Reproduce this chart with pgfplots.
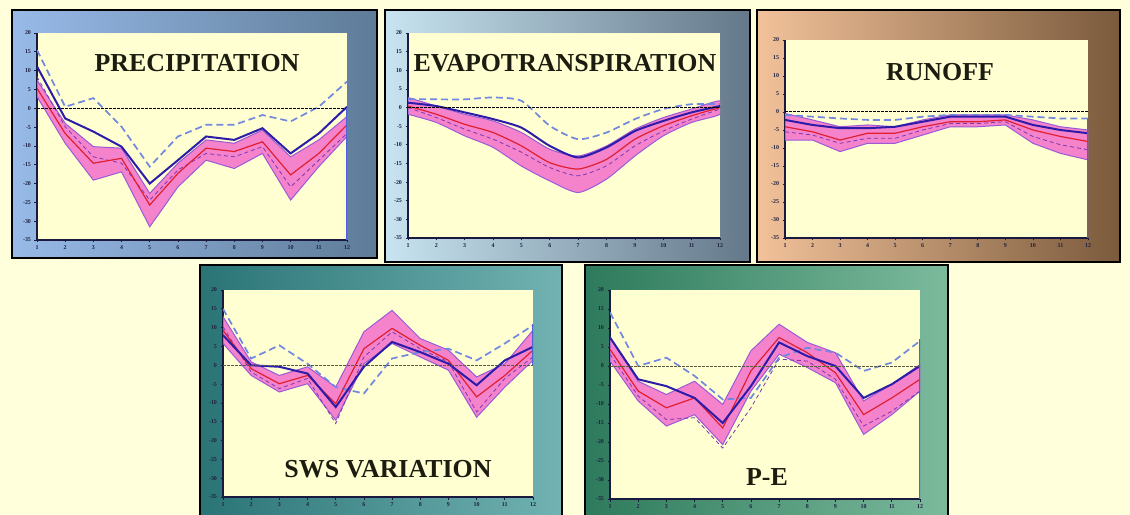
\documentclass[border=0pt]{standalone}
\usepackage{fontspec}
\setmainfont{Liberation Serif}
\usepackage{pgfplots}
\pgfplotsset{compat=1.18}
\definecolor{pagebg}{HTML}{FFFFDC}
\definecolor{plotbg}{HTML}{FFFFD2}
\definecolor{axisdark}{HTML}{1A1A40}
\definecolor{labeldark}{HTML}{202040}
\definecolor{bandfill}{HTML}{F583CC}
\definecolor{bandedge}{HTML}{9A5AD8}
\definecolor{redline}{HTML}{E02030}
\definecolor{blueline}{HTML}{2C1CA8}
\definecolor{bluedash}{HTML}{7088E0}
\definecolor{purpdash}{HTML}{7A38B0}
\definecolor{titlecol}{HTML}{1C1C10}
\definecolor{rightblue}{HTML}{5060D8}
\definecolor{zeroolive}{HTML}{5A5A40}
% frame colours
\definecolor{fAl}{HTML}{98BAE8}\definecolor{fAr}{HTML}{5E7C98}
\definecolor{fBl}{HTML}{C8E4F0}\definecolor{fBr}{HTML}{64788A}
\definecolor{fCl}{HTML}{F2C29A}\definecolor{fCr}{HTML}{7A5A3C}
\definecolor{fDl}{HTML}{2A7476}\definecolor{fDr}{HTML}{72B2B2}
\definecolor{fEl}{HTML}{2E7A5C}\definecolor{fEr}{HTML}{7CBA9C}
\pgfplotsset{
 panel/.style={
  scale only axis,
  xmin=1, xmax=12, ymin=-35, ymax=20,
  xtick={1,...,12}, ytick={-35,-30,...,20},
  axis lines=left,
  axis line style={-, draw=axisdark, line width=1.2bp},
  tick style={draw=axisdark, line width=0.7bp},
  major tick length=2.5bp, tick align=outside,
  /pgf/number format/assume math mode=true,
  ticklabel style={font=\fontsize{6}{7}\selectfont\bfseries, text=labeldark},
  axis background/.style={fill=plotbg},
 },
 band/.style={fill=bandfill, draw=bandedge, line width=1bp, no marks},
 redl/.style={draw=redline, line width=1.2bp, no marks},
 bluel/.style={draw=blueline, line width=2bp, no marks},
 blued/.style={draw=bluedash, line width=1.7bp, no marks, dash pattern=on 7bp off 4bp},
 purpd/.style={draw=purpdash, line width=0.8bp, no marks, dash pattern=on 4bp off 3bp},
 zerol/.style={draw=black, line width=1bp, no marks, dash pattern=on 2.5bp off 1.5bp},
 rightl/.style={draw=rightblue, line width=1.5bp, no marks},
}
\begin{document}
\begin{tikzpicture}
\path[use as bounding box, fill=pagebg] (0bp,0bp) rectangle (1130bp,515bp);
% frames
\shade[left color=fAl, right color=fAr] (12bp,257bp) rectangle (377bp,505bp);
\draw[black, line width=1.5bp] (12bp,257bp) rectangle (377bp,505bp);
\shade[left color=fBl, right color=fBr] (385bp,253bp) rectangle (750bp,505bp);
\draw[black, line width=1.5bp] (385bp,253bp) rectangle (750bp,505bp);
\shade[left color=fCl, right color=fCr] (757bp,253bp) rectangle (1120bp,505bp);
\draw[black, line width=1.5bp] (757bp,253bp) rectangle (1120bp,505bp);
\shade[left color=fDl, right color=fDr] (200bp,0bp) rectangle (562bp,250bp);
\draw[black, line width=1.5bp] (200bp,-2bp) rectangle (562bp,250bp);
\shade[left color=fEl, right color=fEr] (585bp,0bp) rectangle (948bp,250bp);
\draw[black, line width=1.5bp] (585bp,-2bp) rectangle (948bp,250bp);

% ---------- PRECIPITATION ----------
\begin{axis}[panel, at={(37bp,275bp)}, anchor=south west, width=310bp, height=207bp]
\addplot[band] coordinates {(1,7.5)(2,-4.0)(3,-10.2)(4,-10.6)(5,-22.6)(6,-14.6)(7,-8.4)(8,-9.3)(9,-5.8)(10,-12.9)(11,-8.4)(12,-2.2)
 (12,-7.5)(11,-15.5)(10,-24.4)(9,-12.0)(8,-16.0)(7,-13.8)(6,-20.9)(5,-31.5)(4,-16.9)(3,-19.1)(2,-9.3)(1,3.1)} -- cycle;
\addplot[purpd] coordinates {(1,8.4)(2,-4.9)(3,-12.9)(4,-14.6)(5,-24.4)(6,-16.4)(7,-12.0)(8,-12.9)(9,-10.2)(10,-20.9)(11,-13.8)(12,-6.7)};
\addplot[blued] coordinates {(1,15.5)(2,0.4)(3,2.7)(4,-4.9)(5,-15.5)(6,-7.5)(7,-4.4)(8,-4.4)(9,-1.8)(10,-3.5)(11,0.4)(12,7.1)};
\addplot[redl] coordinates {(1,5.3)(2,-6.7)(3,-14.6)(4,-13.3)(5,-25.7)(6,-17.3)(7,-10.6)(8,-11.5)(9,-8.9)(10,-17.7)(11,-12.0)(12,-4.4)};
\addplot[bluel] coordinates {(1,11.1)(2,-2.7)(3,-6.2)(4,-10.2)(5,-20.0)(6,-13.8)(7,-7.5)(8,-8.4)(9,-5.3)(10,-12.0)(11,-6.7)(12,0.4)};
\addplot[zerol] coordinates {(1,0)(12,0)};
\addplot[rightl] coordinates {(12,0)(12,-35)};
\end{axis}

% ---------- EVAPOTRANSPIRATION ----------
\begin{axis}[panel, at={(408bp,277bp)}, anchor=south west, width=312bp, height=205bp]
\addplot[band, smooth, tension=0.4] coordinates {(1,2.7)(2,0.4)(3,-1.8)(4,-3.6)(5,-6.7)(6,-11.2)(7,-13.0)(8,-10.3)(9,-5.8)(10,-2.7)(11,-0.4)(12,1.8)
 (12,-1.8)(11,-4.0)(10,-7.6)(9,-13.0)(8,-19.2)(7,-22.8)(6,-19.7)(5,-15.7)(4,-10.7)(3,-7.6)(2,-4.0)(1,-1.8)} -- cycle;
\addplot[purpd, smooth, tension=0.4] coordinates {(1,0)(2,-2.7)(3,-5.8)(4,-8.5)(5,-12.0)(6,-16.1)(7,-18.3)(8,-15.6)(9,-10.3)(10,-6.3)(11,-3.1)(12,-0.4)};
\addplot[blued, smooth, tension=0.4] coordinates {(1,2.2)(2,2.2)(3,2.2)(4,2.7)(5,1.8)(6,-4.9)(7,-8.5)(8,-6.7)(9,-3.1)(10,-0.4)(11,0.9)(12,0.9)};
\addplot[redl, smooth, tension=0.4] coordinates {(1,0.4)(2,-1.8)(3,-4.5)(4,-6.7)(5,-10.3)(6,-14.8)(7,-16.5)(8,-13.9)(9,-8.5)(10,-4.9)(11,-2.2)(12,0)};
\addplot[bluel, smooth, tension=0.4] coordinates {(1,1.3)(2,0.4)(3,-1.3)(4,-3.1)(5,-5.4)(6,-10.3)(7,-13.4)(8,-10.7)(9,-6.3)(10,-3.6)(11,-1.3)(12,0.4)};
\addplot[zerol] coordinates {(1,0)(12,0)};
\end{axis}

% ---------- RUNOFF ----------
\begin{axis}[panel, at={(785bp,277bp)}, anchor=south west, width=303bp, height=198bp]
\addplot[band] coordinates {(1,-0.4)(2,-2.2)(3,-4.1)(4,-3.6)(5,-4.1)(6,-2.2)(7,-0.8)(8,-0.8)(9,-0.8)(10,-2.2)(11,-4.1)(12,-5.0)
 (12,-13.3)(11,-11.5)(10,-8.7)(9,-3.6)(8,-4.1)(7,-4.1)(6,-6.4)(5,-8.7)(4,-8.7)(3,-11.0)(2,-7.8)(1,-7.8)} -- cycle;
\addplot[purpd] coordinates {(1,-5.5)(2,-6.4)(3,-8.7)(4,-7.3)(5,-7.3)(6,-5.0)(7,-3.2)(8,-3.2)(9,-2.7)(10,-6.8)(11,-9.1)(12,-10.5)};
\addplot[blued] coordinates {(1,-0.8)(2,-1.3)(3,-1.8)(4,-2.2)(5,-2.2)(6,-1.3)(7,-0.8)(8,-0.8)(9,-0.8)(10,-1.3)(11,-1.8)(12,-1.8)};
\addplot[redl] coordinates {(1,-4.1)(2,-5.5)(3,-7.8)(4,-5.9)(5,-5.9)(6,-4.1)(7,-2.7)(8,-2.7)(9,-2.2)(10,-5.0)(11,-6.8)(12,-8.2)};
\addplot[bluel] coordinates {(1,-2.2)(2,-3.6)(3,-4.5)(4,-4.5)(5,-4.1)(6,-2.7)(7,-1.3)(8,-1.3)(9,-1.3)(10,-3.6)(11,-5.0)(12,-5.9)};
\addplot[zerol] coordinates {(1,0)(12,0)};
\addplot[rightl] coordinates {(12,-2)(12,-35)};
\end{axis}

% ---------- SWS VARIATION ----------
\begin{axis}[panel, at={(223bp,18bp)}, anchor=south west, width=310bp, height=207bp]
\addplot[band] coordinates {(1,12.9)(2,0.9)(3,-2.7)(4,-0.4)(5,-5.8)(6,8.9)(7,14.6)(8,7.1)(9,4.0)(10,-3.1)(11,0.4)(12,9.3)
 (12,1.3)(11,-5.8)(10,-13.8)(9,-1.3)(8,2.2)(7,5.8)(6,0.4)(5,-14.6)(4,-4.9)(3,-7.1)(2,-2.7)(1,5.8)} -- cycle;
\addplot[purpd] coordinates {(1,10.2)(2,-1.8)(3,-6.2)(4,-3.5)(5,-15.5)(6,2.2)(7,8.9)(8,4.4)(9,0.9)(10,-12.4)(11,-3.5)(12,2.2)};
\addplot[blued] coordinates {(1,15.0)(2,1.8)(3,5.3)(4,0.4)(5,-5.8)(6,-7.5)(7,1.8)(8,3.5)(9,4.4)(10,1.3)(11,5.8)(12,10.6)};
\addplot[redl] coordinates {(1,9.3)(2,-0.9)(3,-4.9)(4,-2.7)(5,-10.2)(6,4.4)(7,9.8)(8,5.3)(9,1.3)(10,-8.4)(11,-2.7)(12,4.0)};
\addplot[bluel] coordinates {(1,8.0)(2,0)(3,-0.4)(4,-2.2)(5,-11.1)(6,-0.4)(7,6.2)(8,3.5)(9,0.4)(10,-5.3)(11,1.3)(12,4.9)};
\addplot[zerol, draw=zeroolive, line width=0.8bp] coordinates {(1,0)(12,0)};
\addplot[rightl] coordinates {(12,11)(12,0)};
\end{axis}

% ---------- P-E ----------
\begin{axis}[panel, at={(610bp,16bp)}, anchor=south west, width=310bp, height=209bp]
\addplot[band] coordinates {(1,7.5)(2,-4.0)(3,-7.5)(4,-4.0)(5,-10.1)(6,4.0)(7,11.0)(8,6.2)(9,3.5)(10,-9.2)(11,-4.8)(12,0.4)
 (12,-6.6)(11,-12.8)(10,-18.0)(9,-4.4)(8,-0.4)(7,3.1)(6,-6.6)(5,-20.7)(4,-12.8)(3,-15.8)(2,-9.2)(1,1.3)} -- cycle;
\addplot[purpd] coordinates {(1,3.1)(2,-7.9)(3,-14.1)(4,-13.6)(5,-21.6)(6,-11.0)(7,1.8)(8,1.3)(9,-3.5)(10,-15.8)(11,-11.9)(12,-6.6)};
\addplot[blued] coordinates {(1,14.1)(2,0)(3,2.2)(4,-2.6)(5,-8.8)(6,-8.4)(7,2.2)(8,4.8)(9,3.5)(10,-1.3)(11,0.9)(12,6.6)};
\addplot[redl] coordinates {(1,4.4)(2,-6.6)(3,-11.0)(4,-8.4)(5,-16.3)(6,-1.3)(7,7.5)(8,3.5)(9,-1.8)(10,-12.8)(11,-8.4)(12,-3.5)};
\addplot[bluel] coordinates {(1,7.5)(2,-3.5)(3,-5.3)(4,-8.4)(5,-15.0)(6,-5.3)(7,6.2)(8,2.6)(9,0)(10,-8.4)(11,-4.8)(12,0)};
\addplot[zerol, draw=zeroolive, line width=0.8bp] coordinates {(1,0)(12,0)};
\addplot[rightl] coordinates {(12,7)(12,-35)};
\end{axis}

% titles
\begin{scope}[every node/.style={font=\fontsize{26}{28}\selectfont\bfseries, text=titlecol, inner sep=0pt}]
\node at (197bp,452bp) {PRECIPITATION};
\node at (565bp,452bp) {EVAPOTRANSPIRATION};
\node at (940bp,443bp) {RUNOFF};
\node at (388bp,46bp) {SWS VARIATION};
\node at (767bp,38bp) {P-E};
\end{scope}
\end{tikzpicture}
\end{document}
